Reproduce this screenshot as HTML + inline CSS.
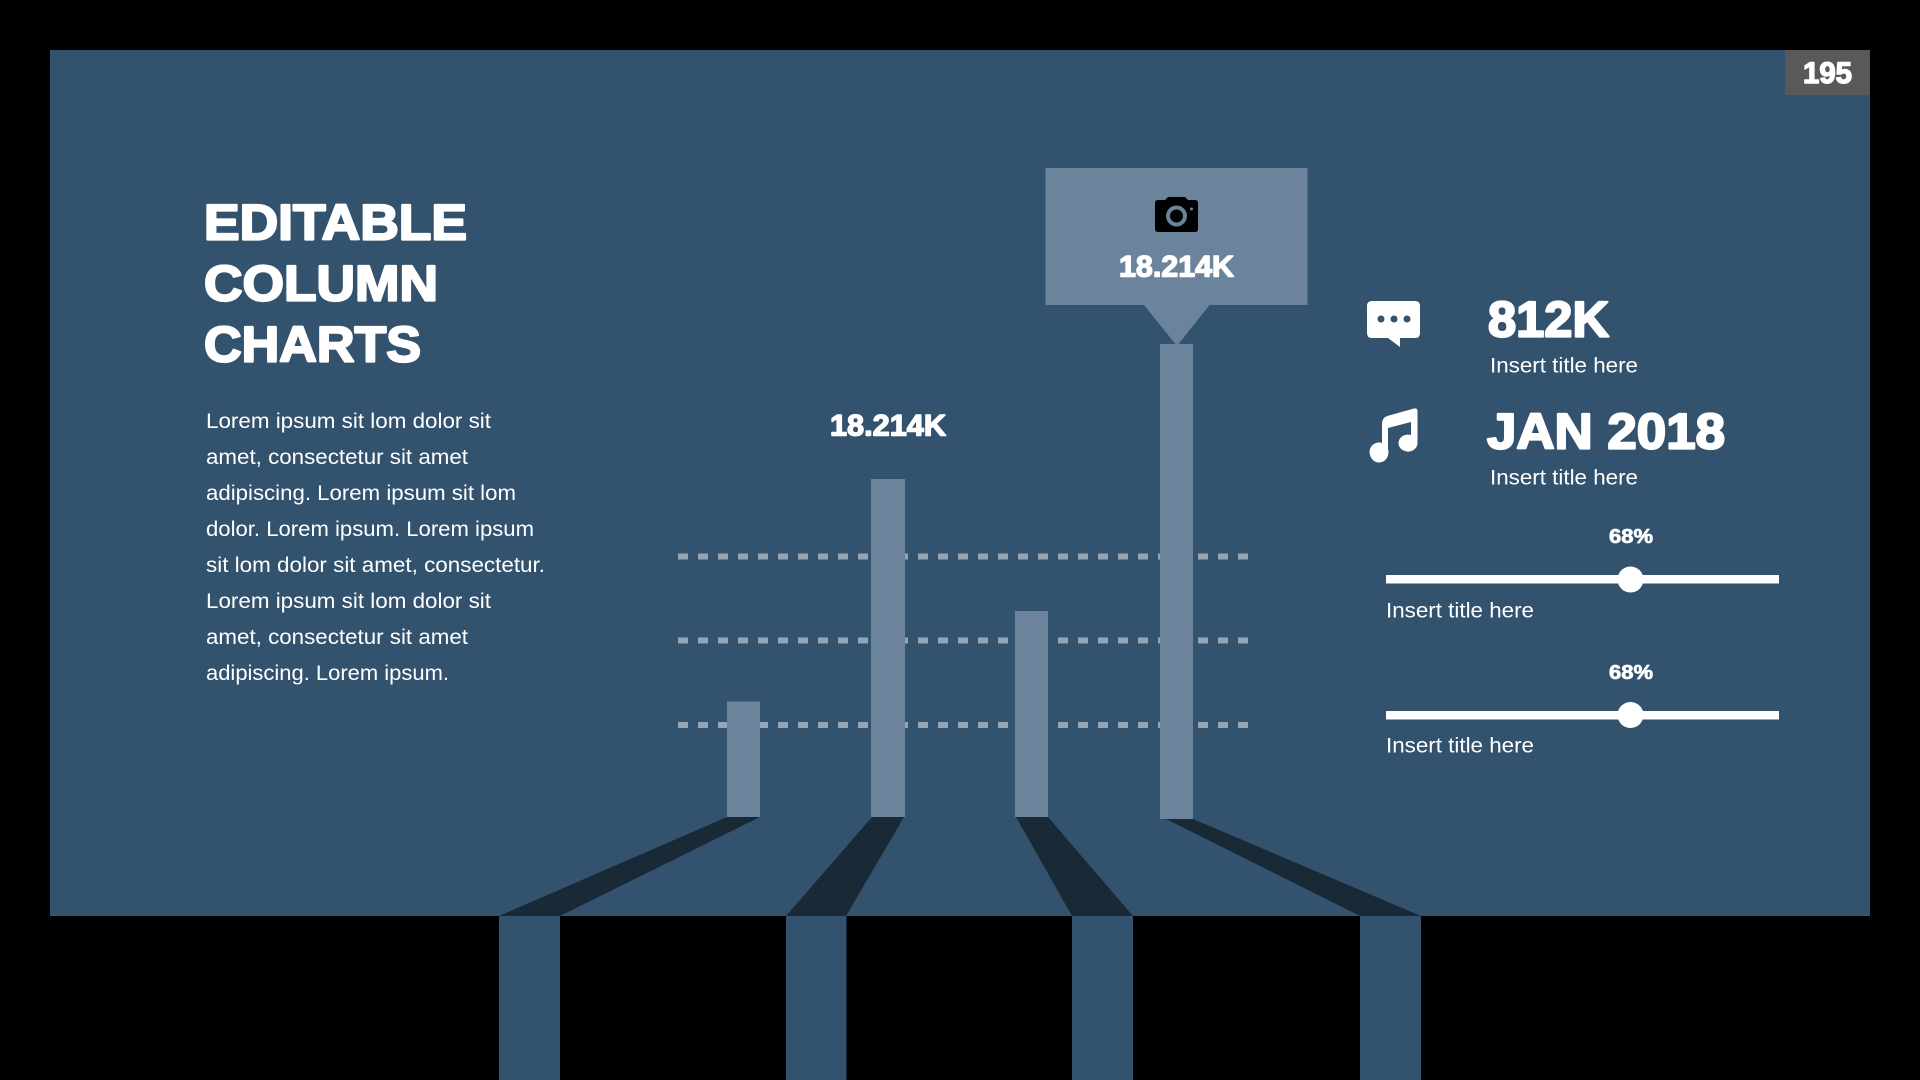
<!DOCTYPE html>
<html lang="en">
<head>
<meta charset="utf-8">
<title>Editable Column Charts</title>
<style>
html,body{margin:0;padding:0;background:#000;width:1920px;height:1080px;overflow:hidden}
svg{display:block}
text{font-family:"Liberation Sans",sans-serif;fill:#fff}
.h{font-weight:700;stroke:#fff;stroke-linejoin:round}
.b{font-size:21px}
</style>
</head>
<body>
<svg width="1920" height="1080" viewBox="0 0 1920 1080" xmlns="http://www.w3.org/2000/svg">
<rect width="1920" height="1080" fill="#000"/>
<rect x="50" y="50" width="1820" height="866" fill="#33526e"/>
<rect x="1785" y="50" width="85" height="45" fill="#59595c"/>
<text class="h" x="1803" y="83" font-size="30" stroke-width="1.400" textLength="49" lengthAdjust="spacingAndGlyphs">195</text>

<!-- stems -->
<g fill="#33526e">
<rect x="499" y="916" width="61" height="164"/>
<rect x="786" y="916" width="60.500" height="164"/>
<rect x="1072" y="916" width="61" height="164"/>
<rect x="1360" y="916" width="61" height="164"/>
</g>
<!-- shadows -->
<g fill="#1a2936">
<polygon points="727,817 760,817 560,916 499,916"/>
<polygon points="872,817 904,817 846,916 786,916"/>
<polygon points="1016,817 1048,817 1133,916 1072,916"/>
<polygon points="1166,819 1193,819 1421,916 1360,916"/>
</g>
<!-- dashes -->
<g stroke="#94a5b5" stroke-width="6" stroke-dasharray="10 10">
<line x1="678" y1="556.5" x2="1250" y2="556.5"/>
<line x1="678" y1="640.5" x2="1250" y2="640.5"/>
<line x1="678" y1="725" x2="1250" y2="725"/>
</g>
<!-- bars -->
<g fill="#6b849b">
<rect x="727" y="701.5" width="33" height="115.5"/>
<rect x="871" y="479" width="34" height="338"/>
<rect x="1015" y="611" width="33" height="206"/>
<rect x="1160" y="344" width="33" height="475"/>
<polygon points="1045.5,168 1307.5,168 1307.5,305 1209.500,305 1177,346 1144,305 1045.5,305"/>
</g>

<!-- camera -->
<path d="M1155 203 q0 -3 3 -3 h7 l3 -3 h17 l3 3 h7 q3 0 3 3 v26 q0 3 -3 3 h-37 q-3 0 -3 -3z" fill="#000"/>
<circle cx="1176.5" cy="216" r="10.500" fill="#6b849b"/>
<circle cx="1176.5" cy="216" r="6.500" fill="#000"/>
<circle cx="1191.5" cy="209" r="1.5" fill="#6b849b"/>

<text class="h" x="1119" y="276.500" font-size="30" stroke-width="1.400" textLength="115" lengthAdjust="spacingAndGlyphs">18.214K</text>
<text class="h" x="830" y="435.500" font-size="30" stroke-width="1.400" textLength="116" lengthAdjust="spacingAndGlyphs">18.214K</text>

<!-- title -->
<text class="h" x="204" y="239.500" font-size="50" stroke-width="2.200" textLength="263" lengthAdjust="spacingAndGlyphs">EDITABLE</text>
<text class="h" x="204" y="300.500" font-size="50" stroke-width="2.200" textLength="234" lengthAdjust="spacingAndGlyphs">COLUMN</text>
<text class="h" x="204" y="361.500" font-size="50" stroke-width="2.200" textLength="217" lengthAdjust="spacingAndGlyphs">CHARTS</text>

<!-- body -->
<text class="b" x="206" y="428" textLength="285" lengthAdjust="spacingAndGlyphs">Lorem ipsum sit lom dolor sit</text>
<text class="b" x="206" y="464" textLength="262" lengthAdjust="spacingAndGlyphs">amet, consectetur sit amet</text>
<text class="b" x="206" y="500" textLength="310" lengthAdjust="spacingAndGlyphs">adipiscing. Lorem ipsum sit lom</text>
<text class="b" x="206" y="536" textLength="328" lengthAdjust="spacingAndGlyphs">dolor. Lorem ipsum. Lorem ipsum</text>
<text class="b" x="206" y="572" textLength="339" lengthAdjust="spacingAndGlyphs">sit lom dolor sit amet, consectetur.</text>
<text class="b" x="206" y="608" textLength="285" lengthAdjust="spacingAndGlyphs">Lorem ipsum sit lom dolor sit</text>
<text class="b" x="206" y="644" textLength="262" lengthAdjust="spacingAndGlyphs">amet, consectetur sit amet</text>
<text class="b" x="206" y="680" textLength="243" lengthAdjust="spacingAndGlyphs">adipiscing. Lorem ipsum.</text>

<!-- chat icon -->
<path d="M1372 301 h43 q5 0 5 5 v27 q0 5 -5 5 h-15 v9 l-12 -9 h-16 q-5 0 -5 -5 v-27 q0 -5 5 -5z" fill="#fff"/>
<g fill="#33526e"><circle cx="1381" cy="319" r="3.5"/><circle cx="1394" cy="319" r="3.5"/><circle cx="1407" cy="319" r="3.5"/></g>

<!-- music icon -->
<path d="M1382 452 V424 Q1382 417 1389 415.5 L1414 408.5 Q1417.500 408 1417.500 411 V443 A9.500 8.500 0 1 1 1411 435 V422 L1388 428 V452 A9 9 0 1 1 1382 445z" fill="#fff"/>
<circle cx="1379" cy="452" r="9.500" fill="#fff"/>

<text class="h" x="1488" y="336.500" font-size="50" stroke-width="2.200" textLength="121" lengthAdjust="spacingAndGlyphs">812K</text>
<text class="h" x="1487" y="448.500" font-size="50" stroke-width="2.200" textLength="238" lengthAdjust="spacingAndGlyphs">JAN 2018</text>
<text class="b" x="1490" y="372.500" textLength="148" lengthAdjust="spacingAndGlyphs">Insert title here</text>
<text class="b" x="1490" y="484.500" textLength="148" lengthAdjust="spacingAndGlyphs">Insert title here</text>

<!-- sliders -->
<text class="h" x="1609" y="543" font-size="20" stroke-width=".7" textLength="44" lengthAdjust="spacingAndGlyphs">68%</text>
<rect x="1386" y="575" width="393" height="8.500" fill="#fff"/>
<circle cx="1630.500" cy="579.500" r="13" fill="#fff"/>
<text class="b" x="1386" y="617.500" textLength="148" lengthAdjust="spacingAndGlyphs">Insert title here</text>

<text class="h" x="1609" y="679" font-size="20" stroke-width=".7" textLength="44" lengthAdjust="spacingAndGlyphs">68%</text>
<rect x="1386" y="711" width="393" height="8.500" fill="#fff"/>
<circle cx="1630.500" cy="715" r="13" fill="#fff"/>
<text class="b" x="1386" y="752.500" textLength="148" lengthAdjust="spacingAndGlyphs">Insert title here</text>
</svg>
</body>
</html>
